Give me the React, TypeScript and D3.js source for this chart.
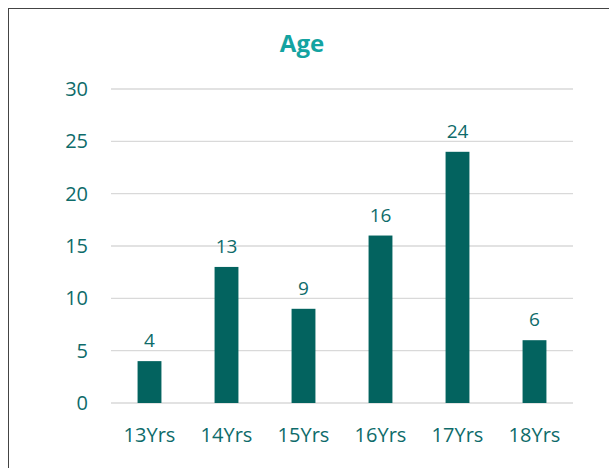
import React from "react";
import * as d3 from "d3";

const categories = ["13Yrs", "14Yrs", "15Yrs", "16Yrs", "17Yrs", "18Yrs"];
const values = [4, 13, 9, 16, 24, 6];
const yTicks = [0, 5, 10, 15, 20, 25, 30];
const title = "Age";

export default function App() {
  const W = 609, H = 468;
  const left = 111, right = 573, top = 89, bottom = 403;
  const x = d3.scaleBand<string>().domain(categories).range([left, right]).paddingInner(0.69).paddingOuter(0.345);
  const y = d3.scaleLinear().domain([0, 30]).range([bottom, top]);
  const font = "'Open Sans', 'Noto Sans', sans-serif";
  const textColor = "#0E6B6A";
  return (
    <svg width={W} height={H} style={{ position: "absolute", left: 0, top: 0 }} fontFamily={font}>
      <rect x={0} y={0} width={W} height={H} fill="#fff" />
      <rect x={8.5} y={8.5} width={620} height={480} fill="#fff" stroke="#444" strokeWidth={1} />
      <text x={302} y={52} textAnchor="middle" fontSize={24} fontWeight="bold" fill="#14A3A1">{title}</text>
      {yTicks.map(t => (
        <g key={t}>
          <line x1={left} x2={right} y1={y(t)} y2={y(t)} stroke="#D9D9D9" strokeWidth={1.3} />
          <text x={88} y={y(t) + 7} textAnchor="end" fontSize={20} fill={textColor}>{t}</text>
        </g>
      ))}
      {categories.map((c, i) => (
        <g key={c}>
          <rect x={x(c)} y={y(values[i])} width={x.bandwidth()} height={y(0) - y(values[i])} fill="#03635F" />
          <text x={(x(c) as number) + x.bandwidth() / 2} y={y(values[i]) - 14} textAnchor="middle" fontSize={19} fill={textColor}>{values[i]}</text>
          <text x={(x(c) as number) + x.bandwidth() / 2} y={442} textAnchor="middle" fontSize={20} fill={textColor}>{c}</text>
        </g>
      ))}
    </svg>
  );
}
